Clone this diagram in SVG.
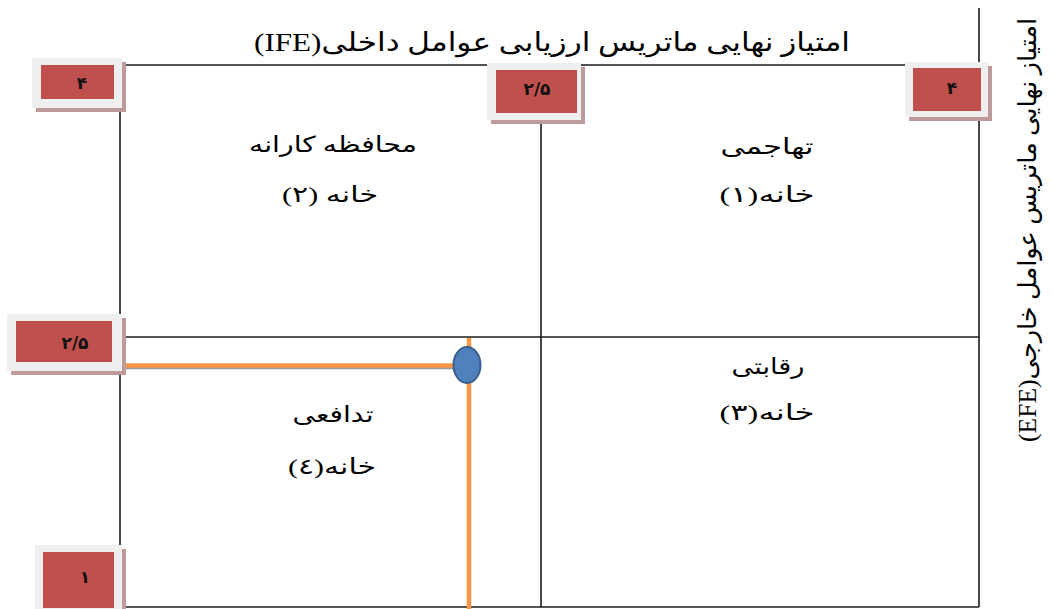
<svg xmlns="http://www.w3.org/2000/svg" width="1052" height="609" viewBox="0 0 1052 609">
<style>
.ln{stroke:#1a1a1a;stroke-width:1.6;fill:none}
.or{stroke:#F79646;stroke-width:4.5;fill:none}
.t{font-family:"Liberation Serif","DejaVu Sans",serif;fill:#000}
.q{font-size:22px}
.lb{font-family:"DejaVu Sans","Liberation Serif",sans-serif;font-size:17px;font-weight:bold;fill:#111}
.sh{fill:#BF9A9A}
.ou{fill:#F0EFEF}
.rd{fill:#C0504D}
</style>
<rect width="1052" height="609" fill="#fff"/>
<g id="connectors">
<line class="ln" x1="120" y1="65" x2="978" y2="65"/>
<line class="ln" x1="979" y1="8" x2="979" y2="607"/>
<line class="ln" x1="120" y1="65" x2="120" y2="607"/>
<line class="ln" x1="120" y1="607" x2="979" y2="607"/>
<line class="ln" x1="120" y1="337" x2="979" y2="337"/>
<line class="ln" x1="541" y1="65" x2="541" y2="607"/>
<line x1="120" y1="368" x2="455" y2="368" stroke="#9A9A9A" stroke-width="2.5"/>
<line class="or" x1="120" y1="365.5" x2="456" y2="365.5"/>
<line class="or" x1="469" y1="338" x2="469" y2="609"/>
</g>
<g id="point"><ellipse cx="467" cy="365" rx="13.5" ry="18" fill="#4F81BD" stroke="#3A5F8B" stroke-width="2"/></g>
<g id="box-tl"><rect class="sh" x="36" y="62" width="90" height="50"/><rect class="ou" x="32" y="58" width="90" height="50"/><rect class="rd" x="41" y="65" width="73" height="34"/><text class="lb" x="82" y="89" text-anchor="middle">۴</text></g>
<g id="box-tc"><rect class="sh" x="491" y="67" width="94" height="57"/><rect class="ou" x="487" y="63" width="94" height="57"/><rect class="rd" x="496" y="70" width="81" height="43"/><text class="lb" x="537" y="95" text-anchor="middle">۲/۵</text></g>
<g id="box-tr"><rect class="sh" x="909" y="66" width="83" height="55"/><rect class="ou" x="905" y="62" width="83" height="55"/><rect class="rd" x="913" y="68" width="68" height="43"/><text class="lb" x="952" y="94" text-anchor="middle">۴</text></g>
<g id="box-ml"><rect class="sh" x="11" y="318" width="115" height="57"/><rect class="ou" x="7" y="314" width="115" height="57"/><rect class="rd" x="16" y="321" width="96" height="41"/><text class="lb" x="75" y="349" text-anchor="middle">۲/۵</text></g>
<g id="box-bl"><rect class="sh" x="39" y="549" width="87" height="64"/><rect class="ou" x="35" y="545" width="87" height="64"/><rect class="rd" x="43" y="552" width="71" height="56"/><text class="lb" x="85" y="583" text-anchor="middle">۱</text></g>
<g id="title"><text class="t" x="552" y="51" font-size="26" text-anchor="middle" direction="rtl" textLength="596" lengthAdjust="spacingAndGlyphs">امتیاز نهایی ماتریس ارزیابی عوامل داخلی(IFE)</text></g>
<g id="axis-y"><text class="t" transform="translate(1036,230) rotate(-90)" x="0" y="0" font-size="25" text-anchor="middle" direction="rtl" textLength="424" lengthAdjust="spacingAndGlyphs">امتیاز نهایی ماتریس عوامل خارجی(EFE)</text></g>
<g id="q1"><text class="t q" x="767" y="154" text-anchor="middle" direction="rtl" textLength="93" lengthAdjust="spacingAndGlyphs">تهاجمی</text><text class="t q" x="767" y="202" text-anchor="middle" direction="rtl" textLength="95" lengthAdjust="spacingAndGlyphs">خانه(۱)</text></g>
<g id="q2"><text class="t q" x="333" y="152" text-anchor="middle" direction="rtl" textLength="168" lengthAdjust="spacingAndGlyphs">محافظه کارانه</text><text class="t q" x="330" y="202" text-anchor="middle" direction="rtl" textLength="96" lengthAdjust="spacingAndGlyphs">خانه (۲)</text></g>
<g id="q3"><text class="t q" x="768" y="374" text-anchor="middle" direction="rtl" textLength="73" lengthAdjust="spacingAndGlyphs">رقابتی</text><text class="t q" x="767" y="420" text-anchor="middle" direction="rtl" textLength="95" lengthAdjust="spacingAndGlyphs">خانه(۳)</text></g>
<g id="q4"><text class="t q" x="333" y="422" text-anchor="middle" direction="rtl" textLength="81" lengthAdjust="spacingAndGlyphs">تدافعی</text><text class="t q" x="332" y="474" text-anchor="middle" direction="rtl" textLength="88" lengthAdjust="spacingAndGlyphs">خانه(٤)</text></g>
</svg>
